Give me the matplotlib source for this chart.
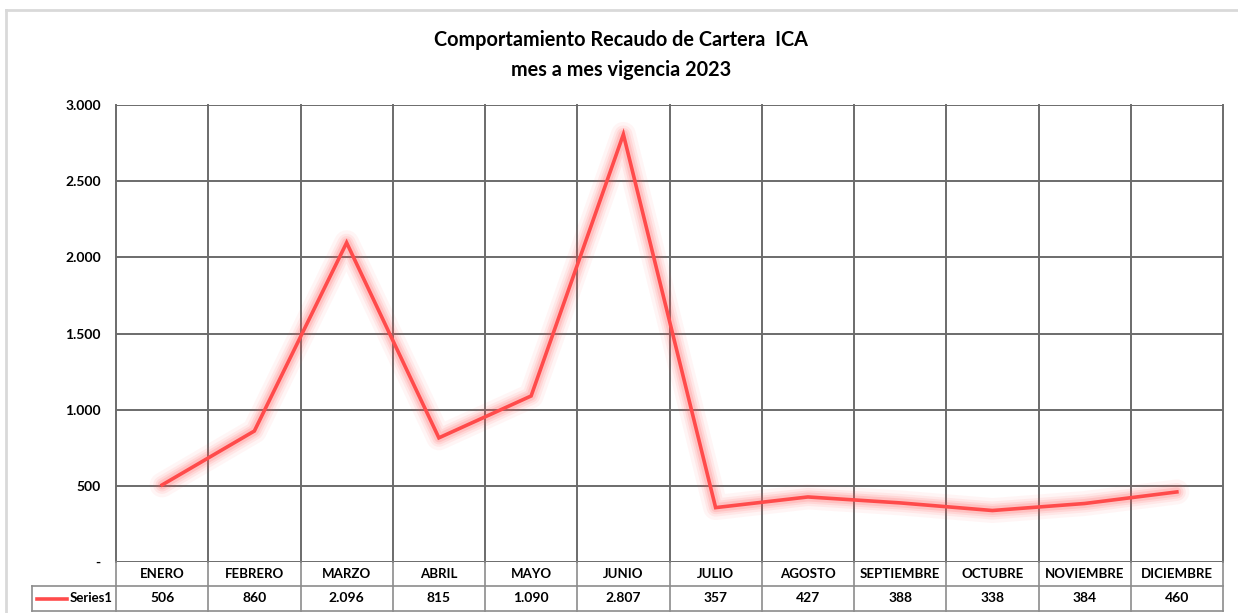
import matplotlib
matplotlib.use("Agg")
import matplotlib.pyplot as plt
import matplotlib.transforms as mtransforms
from matplotlib.lines import Line2D

months = ["ENERO", "FEBRERO", "MARZO", "ABRIL", "MAYO", "JUNIO", "JULIO",
          "AGOSTO", "SEPTIEMBRE", "OCTUBRE", "NOVIEMBRE", "DICIEMBRE"]
values = [506, 860, 2096, 815, 1090, 2807, 357, 427, 388, 338, 384, 460]
yticks = [0, 500, 1000, 1500, 2000, 2500, 3000]
series_name = "Series1"
title = "Comportamiento Recaudo de Cartera  ICA\nmes a mes vigencia 2023"

def fmt(v):
    if v == 0:
        return "-"
    return f"{v:,.0f}".replace(",", ".")

plt.rcParams['font.family'] = ['Lato', 'DejaVu Sans']

W, H = 1238, 613
fig = plt.figure(figsize=(W / 100, H / 100), dpi=100)
fig.patch.set_facecolor("white")

# outer chart border
fig.add_artist(Line2D([6 / W, 6 / W], [0, 1 - 10 / H], transform=fig.transFigure, color="#d9d9d9", lw=2))
fig.add_artist(Line2D([6 / W, 1], [1 - 10 / H, 1 - 10 / H], transform=fig.transFigure, color="#d9d9d9", lw=2))

left, right, top, bottom = 116, 1223, 105, 562
ax = fig.add_axes([left / W, 1 - bottom / H, (right - left) / W, (bottom - top) / H])
n = len(months)
x = list(range(n))

ax.set_xlim(-0.5, n - 0.5)
ax.set_ylim(0, 3000)
ax.set_yticks(yticks)
ax.set_yticklabels([fmt(v) for v in yticks], fontsize=10, fontweight="bold")
ax.tick_params(axis="y", length=0, pad=11)
ax.set_xticks([])
for s in ax.spines.values():
    s.set_visible(False)

grid_c = "#6b6b6b"
for yv in yticks[1:]:
    ax.axhline(yv, color=grid_c, lw=1.4, zorder=1)
ax.axhline(0, color=grid_c, lw=1.4, zorder=1)

# glow + line
for lw, a in [(18, 0.05), (13, 0.08), (9.5, 0.11), (6.5, 0.15)]:
    ax.plot(x, values, color="#ff4d4d", lw=lw, alpha=a, solid_capstyle="round",
            solid_joinstyle="round", zorder=2)
ax.plot(x, values, color="#ff4b4b", lw=2.6, zorder=3, solid_joinstyle="miter")

# table below axis
trans = mtransforms.blended_transform_factory(ax.transData, ax.transAxes)
ph = bottom - top
row1 = -(586 - bottom) / ph
row2 = -(611 - bottom) / ph
tab_c = "#8c8c8c"
for i in range(n + 1):
    xv = i - 0.5
    ax.plot([xv, xv], [1, 0], transform=trans, color=grid_c, lw=1.4, clip_on=False, zorder=1)
    ax.plot([xv, xv], [0, row2], transform=trans, color=tab_c, lw=1.2, clip_on=False, zorder=1)
for i, (m, v) in enumerate(zip(months, values)):
    ax.text(i, (0 + row1) / 2, m, transform=trans, ha="center", va="center",
            fontsize=9.5, fontweight="bold", color="black")
    ax.text(i, (row1 + row2) / 2, fmt(v), transform=trans, ha="center", va="center",
            fontsize=10, fontweight="bold", color="black")

# legend cell
ftr = fig.transFigure
y1 = 1 - 586 / H
y2 = 1 - 611 / H
xl = 32 / W
xr = right / W
fig.add_artist(Line2D([xl, xr], [y1, y1], transform=ftr, color=tab_c, lw=1.2))
fig.add_artist(Line2D([xl, xr], [y2, y2], transform=ftr, color=tab_c, lw=1.2))
fig.add_artist(Line2D([xl, xl], [y1, y2], transform=ftr, color=tab_c, lw=1.2))
ym = (y1 + y2) / 2
fig.add_artist(Line2D([37 / W, 67 / W], [ym, ym], transform=ftr, color="#ff4b4b", lw=2.6))
fig.text(70 / W, ym, series_name, ha="left", va="center", fontsize=9.5, fontweight="bold")

fig.text(621 / W, 1 - 55 / H, title, ha="center", va="center", fontsize=14.3,
         fontweight="bold", linespacing=1.65)

fig.savefig("out.png", dpi=100, facecolor="white")
